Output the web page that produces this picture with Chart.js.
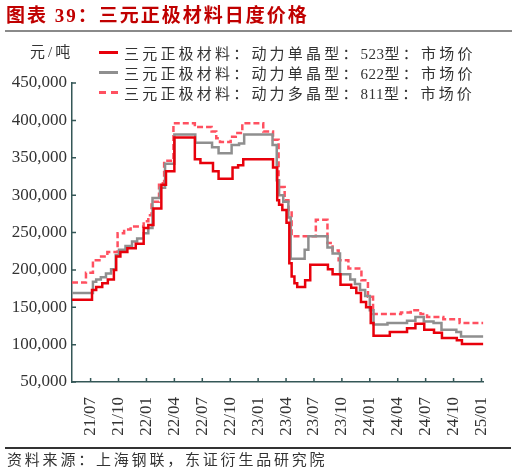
<!DOCTYPE html>
<html lang="zh-CN">
<head>
  <meta charset="UTF-8">
  <title>三元正极材料日度价格</title>
  <script src="https://cdn.jsdelivr.net/npm/chart.js"></script>
  <style>
    body {
      margin: 0;
      background: #fff;
      font-family: 'Liberation Serif', 'Noto Sans CJK SC', serif;
      color: #333;
    }

    #wrap {
      position: relative;
      width: 517px;
      height: 475px;
      overflow: hidden;
    }

    #chart {
      position: absolute;
      left: 0;
      top: 0;
    }

    #title {
      position: absolute;
      left: 6px;
      top: 2px;
      font-family: 'Liberation Serif', 'Noto Sans CJK SC', sans-serif;
      font-weight: bold;
      font-size: 19px;
      line-height: 28px;
      letter-spacing: 2px;
      color: #c00000;
      white-space: nowrap;
    }

    #topRule {
      position: absolute;
      left: 5px;
      top: 30px;
      width: 507px;
      height: 2px;
      background: #8a8a8a;
    }

    #unit {
      position: absolute;
      left: 30px;
      top: 42px;
      font-size: 15px;
      line-height: 20px;
      letter-spacing: 3px;
    }

    #legend {
      position: absolute;
      left: 99px;
      top: 42px;
    }

    .row {
      display: flex;
      align-items: center;
      height: 20px;
      font-size: 15px;
      letter-spacing: 3.2px;
      white-space: nowrap;
    }

    .row .num {
      letter-spacing: 0.5px;
    }

    .swatch {
      display: inline-block;
      width: 19px;
      height: 3px;
      margin-right: 6px;
    }

    #bottomRule {
      position: absolute;
      left: 5px;
      top: 447px;
      width: 506px;
      height: 1.5px;
      background: #333;
    }

    #source {
      position: absolute;
      left: 7px;
      top: 451px;
      font-size: 15px;
      line-height: 18px;
      letter-spacing: 2.8px;
      white-space: nowrap;
    }
  </style>
</head>
<body>
  <div id="wrap">
    <canvas id="chart" width="517" height="475"></canvas>
    <div id="title">图表 39：三元正极材料日度价格</div>
    <div id="topRule"></div>
    <div id="unit">元/吨</div>
    <div id="legend"></div>
    <div id="bottomRule"></div>
    <div id="source">资料来源：上海钢联，东证衍生品研究院</div>
  </div>

  <script>
    // x is months counted from 2021/01 (0 = 21/01); each point holds its value until the next one
    const xTicks = [6, 9, 12, 15, 18, 21, 24, 27, 30, 33, 36, 39, 42, 45, 48];
    const xTickLabels = ['21/07', '21/10', '22/01', '22/04', '22/07', '22/10', '23/01', '23/04',
                         '23/07', '23/10', '24/01', '24/04', '24/07', '24/10', '25/01'];

    const seriesNames = [
      '三元正极材料：动力单晶型：523型：市场价',
      '三元正极材料：动力单晶型：622型：市场价',
      '三元正极材料：动力多晶型：811型：市场价'
    ];

    const x523 = [4, 6.15, 6.6, 7.25, 7.85, 8.5, 8.75, 9.2, 9.95, 10.85, 11.7, 12.2, 12.75, 13.6, 14.1, 15.0,
                  17.2, 17.8, 19.15, 19.75, 21.25, 21.85, 22.4, 25.6, 26.05, 26.25, 26.6, 27.05, 27.35, 27.6,
                  27.9, 28.2, 29.05, 29.6, 31.5, 32.0, 32.85, 34.0, 34.55, 35.05, 35.6, 36.1, 36.4, 38.15,
                  40.0, 40.9, 41.85, 42.9, 43.75, 45.35, 45.9, 48.2];
    const y523 = [160000, 173000, 177000, 182000, 187000, 200000, 218000, 224000, 229000, 235000, 256000,
                  260000, 282000, 314000, 332000, 377000, 348000, 343000, 332000, 322000, 337000, 340000,
                  348000, 337000, 293000, 287000, 280000, 263000, 209000, 191000, 182000, 177000, 186000,
                  207000, 201000, 194000, 180000, 176000, 169000, 157000, 150000, 129000, 112000, 117000,
                  122000, 128000, 120000, 116000, 109000, 106000, 101000, 101000];

    const x622 = [4, 6.25, 6.6, 7.1, 7.65, 8.2, 8.7, 9.05, 9.75, 10.45, 11.0, 11.7, 12.2, 12.65, 13.45, 14.0,
                  15.0, 17.25, 19.05, 19.75, 21.15, 21.95, 22.5, 25.55, 26.0, 26.25, 26.7, 27.25, 27.5, 29.0,
                  29.4, 31.45, 32.0, 32.8, 33.9, 34.4, 34.95, 35.5, 36.0, 36.4, 37.9, 40.0, 40.9, 41.8, 42.85,
                  43.7, 45.3, 45.8, 48.2];
    const y622 = [169000, 184000, 187000, 190000, 195000, 201000, 220000, 227000, 232000, 238000, 242000,
                  249000, 256000, 296000, 310000, 342000, 381000, 370000, 364000, 356000, 367000, 369000,
                  381000, 367000, 320000, 300000, 291000, 270000, 215000, 227000, 245000, 230000, 222000,
                  194000, 187000, 181000, 173000, 165000, 146000, 127000, 129000, 132000, 137000, 131000,
                  129000, 120000, 117000, 111000, 111000];

    const x811 = [4, 5.5, 6.25, 6.95, 7.8, 8.9, 9.6, 10.3, 11.7, 12.2, 12.55, 13.35, 13.9, 14.9, 17.2, 19.0,
                  19.5, 19.9, 21.05, 21.6, 22.3, 24.55, 25.6, 26.2, 26.85, 27.25, 27.6, 30.2, 31.45, 32.0,
                  32.65, 33.7, 35.1, 35.8, 36.35, 39.35, 40.4, 41.45, 42.15, 43.9, 45.65, 48.2];
    const y811 = [183000, 196000, 213000, 218000, 224000, 249000, 254000, 258000, 265000, 273000, 291000,
                  316000, 346000, 396000, 391000, 385000, 376000, 371000, 378000, 383000, 396000, 385000,
                  374000, 311000, 293000, 280000, 245000, 267000, 236000, 226000, 213000, 202000, 186000,
                  164000, 141000, 143000, 146000, 141000, 137000, 134000, 129000, 129000];

    const colors = ['#e8000b', '#8f8f8f', '#ff5060'];
    const dashes = [[], [], [6, 3]];
    const axisColor = '#345757';

    const toPoints = (xs, ys) => xs.map((v, i) => ({ x: v, y: ys[i] }));
    const seriesData = [toPoints(x523, y523), toPoints(x622, y622), toPoints(x811, y811)];

    // legend rows (digits get tighter spacing than the Chinese text)
    const legend = document.getElementById('legend');
    seriesNames.forEach((name, i) => {
      const row = document.createElement('div');
      row.className = 'row';
      const sw = document.createElement('span');
      sw.className = 'swatch';
      if (dashes[i].length) {
        sw.style.background = `linear-gradient(to right, ${colors[i]} 0 7px, transparent 7px 12px, ${colors[i]} 12px 19px)`;
      } else {
        sw.style.background = colors[i];
      }
      row.appendChild(sw);
      const label = document.createElement('span');
      name.split(/(\d+)/).forEach(part => {
        if (!part) return;
        const s = document.createElement('span');
        if (/^\d+$/.test(part)) s.className = 'num';
        s.textContent = part;
        label.appendChild(s);
      });
      row.appendChild(label);
      legend.appendChild(row);
    });

    // small tick marks pointing into the plot
    const innerTicks = {
      id: 'innerTicks',
      afterDraw(chart) {
        const { ctx, chartArea: a, scales: { x, y } } = chart;
        ctx.save();
        ctx.strokeStyle = axisColor;
        ctx.lineWidth = 1.5;
        ctx.beginPath();
        y.ticks.forEach(t => {
          const py = y.getPixelForValue(t.value);
          ctx.moveTo(a.left, py);
          ctx.lineTo(a.left + 4, py);
        });
        x.ticks.forEach(t => {
          const px = x.getPixelForValue(t.value);
          ctx.moveTo(px, a.bottom);
          ctx.lineTo(px, a.bottom - 4);
        });
        ctx.stroke();
        ctx.restore();
      }
    };

    const tickFont = { family: "'Liberation Serif', serif", size: 17 };

    new Chart(document.getElementById('chart'), {
      type: 'line',
      data: {
        datasets: seriesData.map((pts, i) => ({
          label: seriesNames[i],
          data: pts,
          borderColor: colors[i],
          borderDash: dashes[i],
          borderWidth: 2.5,
          pointRadius: 0,
          stepped: true,
          fill: false
        }))
      },
      options: {
        responsive: false,
        animation: false,
        layout: { padding: { left: 0, top: 83, right: 25, bottom: 0 } },
        plugins: {
          legend: { display: false },
          tooltip: { enabled: false }
        },
        scales: {
          x: {
            type: 'linear',
            min: 4,
            max: 48.2,
            afterFit: s => { s.height = 93; },
            afterBuildTicks: s => { s.ticks = xTicks.map(v => ({ value: v })); },
            grid: { display: false, drawTicks: false },
            border: { display: true, color: axisColor, width: 1.5 },
            ticks: {
              autoSkip: false,
              minRotation: 90,
              maxRotation: 90,
              padding: 15,
              color: '#333',
              font: tickFont,
              callback: (v, i) => xTickLabels[i]
            }
          },
          y: {
            min: 50000,
            max: 450000,
            afterFit: s => { s.width = 72; },
            grid: { display: false, drawTicks: false },
            border: { display: true, color: axisColor, width: 1.5 },
            ticks: {
              stepSize: 50000,
              padding: 5,
              color: '#333',
              font: tickFont,
              callback: v => v.toLocaleString('en-US')
            }
          }
        }
      },
      plugins: [innerTicks]
    });
  </script>
</body>
</html>
